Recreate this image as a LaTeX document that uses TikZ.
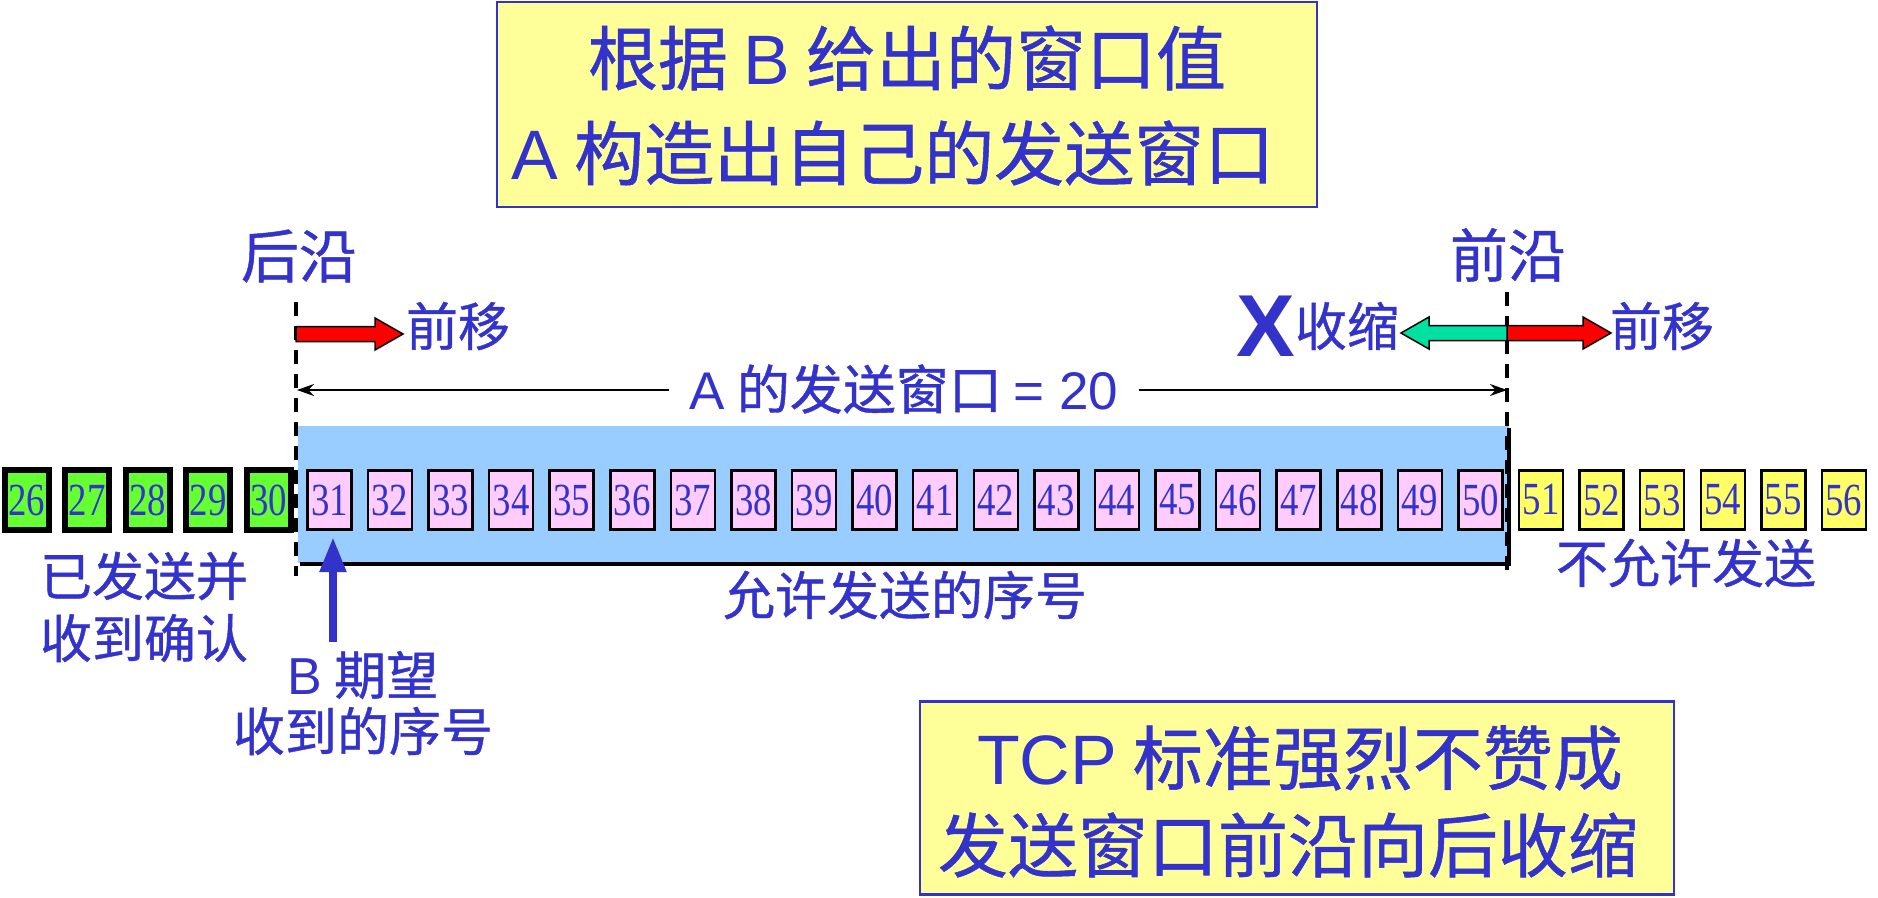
\documentclass[tikz,border=0pt]{standalone}
\usepackage{fontspec}
\setmainfont[FakeBold=0.8]{Noto Sans CJK SC}
\newfontfamily\lat{Liberation Sans}
\newfontfamily\numf[FakeStretch=0.8]{Liberation Serif}
\newfontfamily\latb{Liberation Sans Bold}
\usetikzlibrary{arrows.meta}
\definecolor{tblue}{HTML}{3333CC}
\definecolor{boxyellow}{HTML}{FFFF99}
\definecolor{ackgreen}{HTML}{66FF33}
\definecolor{winpink}{HTML}{FFCCFF}
\definecolor{noyellow}{HTML}{FFFF66}
\definecolor{winblue}{HTML}{99CCFF}
\definecolor{shrinkgreen}{HTML}{00E0A0}
\begin{document}
\begin{tikzpicture}[x=1pt,y=-1pt,
  txt/.style={text=tblue, inner sep=0pt, anchor=center},
  big/.style={txt, font=\fontsize{70}{84}\selectfont},
  mid/.style={txt, font=\fontsize{58}{70}\selectfont},
  sml/.style={txt, font=\fontsize{52}{62}\selectfont},
  notebox/.style={draw=tblue, fill=boxyellow, line width=2.5pt, inner sep=0pt},
  seqbox/.style={draw=black, line width=2.5pt, minimum width=44pt, minimum height=59pt, inner sep=0pt, text=tblue, font=\numf\fontsize{46}{52}\selectfont},
  ackbox/.style={seqbox, fill=ackgreen, line width=6pt, minimum height=60pt},
  winbox/.style={seqbox, fill=winpink},
  nobox/.style={seqbox, fill=noyellow},
  edge/.style={black, line width=3.5pt, dash pattern=on 14pt off 10pt},
  blockarrow/.style={draw=black, line width=1.5pt},
  dimline/.style={black, line width=1.5pt, -{Stealth[length=17pt,width=12pt]}}
]
\useasboundingbox (0,0) rectangle (1878,897);

% top note
\node[notebox, minimum width=820pt, minimum height=205pt] (topbox) at (907,104.5) {};
\node[big] (t1) at (907,58) {根据 {\lat B} 给出的窗口值};
\node[big] (t2) at (893,153) {{\lat A} 构造出自己的发送窗口};

% bottom note
\node[notebox, minimum width=754pt, minimum height=193pt] (botbox) at (1297,798) {};
\node[big] (b1) at (1300,758) {{\lat TCP} 标准强烈不赞成};
\node[big] (b2) at (1288,845) {发送窗口前沿向后收缩};

% window background
\fill[winblue] (298,426) rectangle (1509,563);
\draw[black, line width=4pt] (1509,428) -- (1509,564) -- (300,564);

% sequence boxes
\foreach \n in {26,...,30} \node[ackbox] (s\n) at ({329.4+60.58*(\n-31)},500) {\n};
\foreach \n in {31,...,50} \node[winbox] (s\n) at ({329.4+60.58*(\n-31)},500) {\n};
\foreach \n in {51,...,56} \node[nobox] (s\n) at ({329.4+60.58*(\n-31)},500) {\n};

% edges
\coordinate (ltop) at (296,302);
\coordinate (lbot) at (296,576);
\coordinate (rtop) at (1507,292);
\coordinate (rbot) at (1507,576);
\draw[edge] (ltop) -- (lbot);
\draw[edge] (rtop) -- (rbot);

\node[mid] (back) at (299,256) {后沿};
\node[mid] (front) at (1508,255) {前沿};

% block arrows
\draw[blockarrow, fill=red] (296,326.5) -- (375,326.5) -- (375,318) -- (403,334) -- (375,350) -- (375,341.5) -- (296,341.5) -- cycle;
\draw[blockarrow, fill=red] (1507,325.5) -- (1583,325.5) -- (1583,317) -- (1611,333) -- (1583,349) -- (1583,340.5) -- (1507,340.5) -- cycle;
\draw[blockarrow, fill=shrinkgreen] (1507,325.5) -- (1429,325.5) -- (1429,317) -- (1401,333) -- (1429,349) -- (1429,340.5) -- (1507,340.5) -- cycle;

\node[sml] (mv1) at (458,326) {前移};
\node[sml] (mv2) at (1662,326) {前移};
\node[sml] (shr) at (1347,326) {收缩};
\node[txt, font=\latb\fontsize{88}{90}\selectfont] (xx) at (1266,326) {X};

% window size
\node[sml, font=\fontsize{53}{62}\selectfont, inner xsep=20pt, inner ysep=0pt] (dim) at (904,389) {{\lat A} 的发送窗口 {\lat = 20}};
\coordinate (dl) at (297,390);
\coordinate (dr) at (1507,390);
\draw[dimline] (dim.west |- dl) -- (dl);
\draw[dimline] (dim.east |- dr) -- (dr);

% labels
\node[sml] (ack1) at (144,576) {已发送并};
\node[sml] (ack2) at (144,638) {收到确认};
\node[sml] (allow) at (905,595) {允许发送的序号};
\node[sml] (deny) at (1686,563) {不允许发送};
\node[sml] (exp1) at (363,675) {{\lat B} 期望};
\node[sml] (exp2) at (363,731) {收到的序号};

% expected arrow
\coordinate (bs) at (333,642);
\coordinate (bt) at (333,537);
\draw[tblue, line width=8pt, -{Triangle[length=35pt,width=25pt]}] (bs) -- (bt);
\end{tikzpicture}
\end{document}
